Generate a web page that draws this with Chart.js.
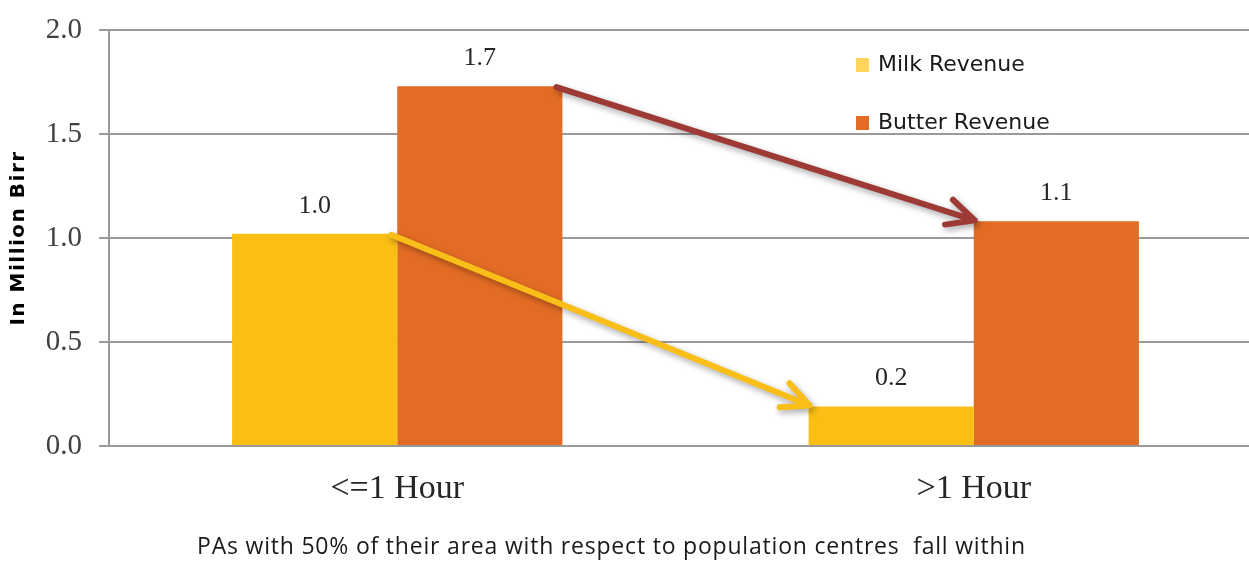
<!DOCTYPE html>
<html>
<head>
<meta charset="utf-8">
<script src="https://cdn.jsdelivr.net/npm/chart.js@4.4.1/dist/chart.umd.min.js"></script>
<style>
  html, body { margin: 0; padding: 0; background: #fff; overflow: hidden; }
  #wrap { position: relative; width: 1262px; height: 562px; }
</style>
</head>
<body>
<div id="wrap"><canvas id="revenueChart"></canvas></div>
<script>
const categories = ['<=1 Hour', '>1 Hour'];
const milkRevenue = [1.02, 0.19];
const butterRevenue = [1.73, 1.08];
const yTicks = [0, 0.5, 1.0, 1.5, 2.0];

const MILK = '#FABE14';
const BUTTER = '#E36C24';
const Y_TITLE = 'In Million Birr';
const X_TITLE = 'PAs with 50% of their area with respect to population centres  fall within';

// value labels above each bar
const valueLabels = {
    id: 'valueLabels',
    afterDatasetsDraw(chart) {
        const ctx = chart.ctx;
        ctx.save();
        ctx.font = '26px "Liberation Serif", serif';
        ctx.fillStyle = '#262626';
        ctx.textAlign = 'center';
        ctx.textBaseline = 'alphabetic';
        chart.data.datasets.forEach((ds, i) => {
            chart.getDatasetMeta(i).data.forEach((bar, j) => {
                ctx.fillText(ds.data[j].toFixed(1), bar.x, bar.y - 21);
            });
        });
        ctx.restore();
    }
};

// arrows linking the same series across the two groups
const trendArrows = {
    id: 'trendArrows',
    afterDatasetsDraw(chart) {
        const ctx = chart.ctx;
        const colors = ['#F9BE17', '#9E3A36'];
        [1, 0].forEach(i => {
            const bars = chart.getDatasetMeta(i).data;
            const a = bars[0], b = bars[1];
            const x1 = a.x + a.width / 2 - 6, y1 = a.y + 1;
            const x2 = b.x - b.width / 2 + 1, y2 = b.y - 1;
            const ang = Math.atan2(y2 - y1, x2 - x1);
            const head = 30, spread = 0.45;
            ctx.save();
            ctx.shadowColor = 'rgba(0,0,0,0.35)';
            ctx.shadowBlur = 6;
            ctx.shadowOffsetX = 2;
            ctx.shadowOffsetY = 3;
            ctx.strokeStyle = colors[i];
            ctx.lineWidth = 6;
            ctx.lineCap = 'round';
            ctx.lineJoin = 'round';
            ctx.beginPath();
            ctx.moveTo(x1, y1);
            ctx.lineTo(x2, y2);
            ctx.moveTo(x2 - head * Math.cos(ang - spread), y2 - head * Math.sin(ang - spread));
            ctx.lineTo(x2, y2);
            ctx.lineTo(x2 - head * Math.cos(ang + spread), y2 - head * Math.sin(ang + spread));
            ctx.stroke();
            ctx.restore();
        });
    }
};

// legend stacked inside the plot, top right
const insideLegend = {
    id: 'insideLegend',
    afterDraw(chart) {
        const ctx = chart.ctx;
        const swatches = ['#FFD45C', BUTTER];
        const x = 856, ys = [65, 123];
        ctx.save();
        ctx.font = '22px "DejaVu Sans", sans-serif';
        ctx.textBaseline = 'middle';
        chart.data.datasets.forEach((ds, i) => {
            ctx.fillStyle = swatches[i];
            ctx.fillRect(x, ys[i] - 7, 13, 14);
            ctx.fillStyle = '#1a1a1a';
            ctx.fillText(ds.label, x + 22, ys[i]);
        });
        ctx.restore();
    }
};

// axis titles
const axisTitles = {
    id: 'axisTitles',
    afterDraw(chart) {
        const ctx = chart.ctx;
        const area = chart.chartArea;
        ctx.save();
        ctx.fillStyle = '#1a1a1a';
        ctx.font = '23px "Open Sans", sans-serif';
        ctx.letterSpacing = '0.8px';
        ctx.textAlign = 'left';
        ctx.textBaseline = 'alphabetic';
        ctx.fillText(X_TITLE, 197, 554);

        ctx.translate(19, (area.top + area.bottom) / 2);
        ctx.rotate(-Math.PI / 2);
        ctx.fillStyle = '#000';
        ctx.font = 'bold 20px "DejaVu Sans", sans-serif';
        ctx.letterSpacing = '1.5px';
        ctx.textAlign = 'center';
        ctx.textBaseline = 'middle';
        ctx.fillText(Y_TITLE, 0, 0);
        ctx.restore();
    }
};

new Chart(document.getElementById('revenueChart'), {
    type: 'bar',
    data: {
        labels: categories,
        datasets: [
            { label: 'Milk Revenue', data: milkRevenue, backgroundColor: MILK },
            { label: 'Butter Revenue', data: butterRevenue, backgroundColor: BUTTER }
        ]
    },
    options: {
        responsive: true,
        maintainAspectRatio: false,
        animation: false,
        devicePixelRatio: 1,
        categoryPercentage: 0.573,
        barPercentage: 1,
        layout: { padding: { top: 30, left: 0, right: 0, bottom: 0 } },
        plugins: {
            legend: { display: false },
            tooltip: { enabled: false }
        },
        scales: {
            x: {
                afterFit(scale) { scale.height = 116; },
                grid: { display: false, drawTicks: false },
                border: { display: false },
                ticks: {
                    color: '#262626',
                    font: { family: '"Liberation Serif", serif', size: 34 },
                    padding: 23
                }
            },
            y: {
                min: 0,
                max: 2,
                afterFit(scale) {
                    scale.width = 109;
                    scale.paddingTop = 0;
                    scale.paddingBottom = 0;
                },
                afterBuildTicks(scale) {
                    scale.ticks = yTicks.map(v => ({ value: v }));
                },
                grid: { color: '#9a9a9a', lineWidth: 2, tickLength: 10 },
                border: { color: '#9a9a9a', width: 2 },
                ticks: {
                    color: '#404040',
                    font: { family: '"Liberation Serif", serif', size: 29 },
                    padding: 17,
                    callback: v => Number(v).toFixed(1)
                }
            }
        }
    },
    plugins: [valueLabels, trendArrows, insideLegend, axisTitles]
});
</script>
</body>
</html>
